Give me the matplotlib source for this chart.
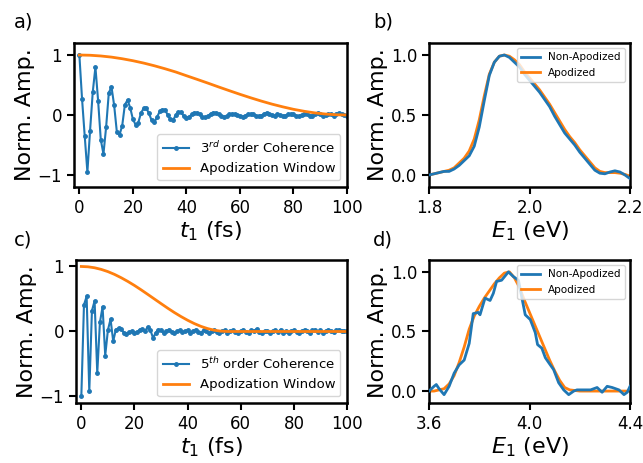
import numpy as np
import matplotlib
matplotlib.use('Agg')
import matplotlib.pyplot as plt

# 3rd order coherence, one point per fs (0..100 fs)
t_a = np.arange(0, 101, 1)
coh3 = [1.00, 0.27, -0.35, -0.95, -0.26, 0.38, 0.80, 0.24, -0.41, -0.65,
        -0.20, 0.37, 0.47, 0.16, -0.28, -0.33, -0.18, 0.17, 0.25, 0.12,
        -0.07, -0.16, -0.13, 0.03, 0.11, 0.11, 0.03, -0.09, -0.12, -0.04,
        0.06, 0.09, 0.09, 0.00, -0.07, -0.09, 0.00, 0.05, 0.05, -0.02,
        -0.05, -0.03, 0.01, 0.04, 0.04, 0.01, -0.03, -0.04, -0.02, 0.02,
        0.04, 0.04, 0.01, -0.02, -0.03, -0.02, 0.01, 0.02, 0.02, 0.00,
        -0.02, -0.03, -0.01, 0.01, 0.02, 0.01, -0.01, -0.02, -0.01, 0.02,
        0.04, 0.02, 0.00, -0.01, 0.01, 0.00, -0.02, -0.01, 0.01, 0.02,
        0.01, -0.01, -0.02, 0.00, 0.02, 0.01, -0.01, -0.01, 0.01, 0.03,
        0.01, -0.01, 0.00, 0.02, 0.01, -0.01, 0.02, 0.03, 0.01, 0.00,
        -0.02]
t_win_a = [0, 4, 8, 12, 16, 20, 24, 28, 32, 36, 40, 44, 48, 52, 56, 60,
           64, 68, 72, 76, 80, 84, 88, 92, 96, 100]
win_a = [1.0, 0.996, 0.984, 0.965, 0.938, 0.905, 0.866, 0.821, 0.771, 0.717,
         0.655, 0.594, 0.532, 0.468, 0.406, 0.345, 0.287, 0.232, 0.181, 0.136,
         0.095, 0.062, 0.035, 0.016, 0.004, 0.0]

# 5th order coherence
t_c = np.arange(0, 101, 1)
coh5 = [-1.00, 0.41, 0.54, -0.92, 0.32, 0.47, -0.64, 0.14, 0.38, -0.37,
        0.02, 0.19, -0.15, 0.03, 0.05, 0.04, -0.02, -0.04, -0.01, 0.00,
        -0.03, -0.01, 0.03, 0.04, 0.01, 0.07, 0.02, -0.10, -0.02, 0.03,
        0.02, -0.02, 0.01, 0.03, -0.01, -0.02, 0.00, 0.02, -0.01, 0.00,
        0.02, -0.02, 0.01, 0.03, -0.01, -0.02, 0.02, 0.00, -0.03, 0.01,
        0.02, -0.01, -0.03, 0.01, 0.02, -0.02, 0.00, 0.02, -0.01, -0.02,
        0.01, 0.03, -0.01, -0.02, 0.02, 0.01, 0.04, -0.01, -0.02, 0.01,
        0.00, -0.02, 0.01, 0.02, -0.01, 0.03, -0.02, 0.00, -0.03, 0.01,
        0.02, -0.01, -0.03, 0.01, 0.03, 0.00, -0.02, 0.02, 0.03, -0.01,
        0.02, -0.02, 0.01, 0.03, 0.00, -0.01, 0.02, 0.03, 0.01, 0.00,
        0.01]
t_win_c = [0, 2.5, 5, 7.5, 10, 12.5, 15, 17.5, 20, 22.5, 25, 27.5, 30, 32.5,
           35, 37.5, 40, 42.5, 45, 47.5, 50, 52.5, 55, 60, 70, 80, 90, 100]
win_c = [1.0, 0.995, 0.980, 0.955, 0.921, 0.878, 0.827, 0.770, 0.708, 0.641,
         0.571, 0.500, 0.429, 0.359, 0.292, 0.230, 0.173, 0.122, 0.079, 0.045,
         0.020, 0.005, 0.0, 0.0, 0.0, 0.0, 0.0, 0.0]

# spectra, 3rd order (E1 in eV)
E_b = np.round(np.arange(1.80, 2.2001, 0.01), 2)
spec_b_raw = [0.00, 0.01, 0.02, 0.03, 0.03, 0.05, 0.08, 0.12, 0.16, 0.24,
              0.40, 0.62, 0.83, 0.94, 0.99, 1.00, 0.98, 0.94, 0.90, 0.84,
              0.79, 0.74, 0.69, 0.63, 0.57, 0.49, 0.42, 0.35, 0.30, 0.25,
              0.19, 0.14, 0.09, 0.04, 0.015, 0.01, 0.025, 0.035, 0.025, 0.00,
              -0.03]
spec_b_apod = [0.00, 0.01, 0.02, 0.03, 0.04, 0.06, 0.10, 0.14, 0.20, 0.30,
               0.46, 0.66, 0.84, 0.94, 0.99, 1.00, 0.99, 0.96, 0.92, 0.86,
               0.81, 0.76, 0.71, 0.65, 0.59, 0.52, 0.45, 0.38, 0.32, 0.27,
               0.21, 0.16, 0.11, 0.06, 0.03, 0.02, 0.02, 0.02, 0.015, 0.005,
               -0.01]

# spectra, 5th order
E_d_raw = [3.600, 3.620, 3.629, 3.640, 3.660, 3.680, 3.700, 3.720, 3.740,
           3.760, 3.776, 3.796, 3.803, 3.823, 3.843, 3.856, 3.869, 3.889,
           3.916, 3.936, 3.956, 3.969, 3.983, 4.003, 4.023, 4.032, 4.049,
           4.063, 4.076, 4.096, 4.116, 4.136, 4.156, 4.176, 4.189, 4.216,
           4.243, 4.269, 4.289, 4.309, 4.329, 4.356, 4.376, 4.389, 4.400]
spec_d_raw = [0.00, 0.04, 0.055, 0.02, -0.03, 0.04, 0.15, 0.22, 0.26,
              0.40, 0.65, 0.66, 0.64, 0.78, 0.76, 0.82, 0.92, 0.93,
              1.00, 0.96, 0.93, 0.79, 0.64, 0.60, 0.49, 0.39, 0.36,
              0.28, 0.24, 0.18, 0.07, 0.01, -0.03, 0.00, 0.01, 0.01,
              0.01, 0.03, -0.01, 0.04, 0.03, 0.01, -0.03, -0.01, 0.04]
E_d_apod = [3.60, 3.62, 3.64, 3.66, 3.68, 3.70, 3.72, 3.74, 3.76, 3.78, 3.80,
            3.82, 3.84, 3.86, 3.88, 3.90, 3.92, 3.94, 3.96, 3.98, 4.00, 4.02,
            4.04, 4.06, 4.08, 4.10, 4.12, 4.14, 4.16, 4.20, 4.25, 4.30, 4.35,
            4.40]
spec_d_apod = [0.00, 0.00, 0.01, 0.02, 0.06, 0.13, 0.24, 0.37, 0.52, 0.63,
               0.71, 0.78, 0.84, 0.90, 0.95, 0.99, 1.00, 0.95, 0.87, 0.76,
               0.66, 0.56, 0.46, 0.36, 0.26, 0.17, 0.09, 0.03, 0.01, 0.0,
               0.0, 0.0, 0.0, 0.0]

blue = '#1f77b4'
orange = '#ff7f0e'

fig = plt.figure(figsize=(6.43, 4.63), dpi=100)
ax_a = fig.add_axes([0.1151, 0.5961, 0.4246, 0.3110])
ax_b = fig.add_axes([0.6672, 0.5961, 0.3126, 0.3110])
ax_c = fig.add_axes([0.1182, 0.1296, 0.4215, 0.3089])
ax_d = fig.add_axes([0.6672, 0.1296, 0.3126, 0.3089])

# time domain panels
for ax, t, coh, tw, w, lab in [(ax_a, t_a, coh3, t_win_a, win_a, r'3$^{rd}$ order Coherence'),
                               (ax_c, t_c, coh5, t_win_c, win_c, r'5$^{th}$ order Coherence')]:
    ax.plot(t, coh, '.-', color=blue, lw=1.5, ms=5, label=lab)
    ax.plot(tw, w, color=orange, lw=2, label='Apodization Window')
    ax.set_xlim(-2, 100)
    ax.set_xticks([0, 20, 40, 60, 80, 100])
    ax.set_yticks([-1, 0, 1])
    ax.set_xlabel(r'$t_1$ (fs)', fontsize=16, labelpad=2)
    ax.set_ylabel('Norm. Amp.', fontsize=16, labelpad=2)
    ax.legend(loc='lower right', fontsize=9.5)
ax_a.set_ylim(-1.2, 1.2)
ax_c.set_ylim(-1.1, 1.1)

# frequency domain panels
ax_b.plot(E_b, spec_b_raw, color=blue, lw=2, label='Non-Apodized', zorder=3)
ax_b.plot(E_b, spec_b_apod, color=orange, lw=2, label='Apodized', zorder=2)
ax_b.set_xlim(1.8, 2.2)
ax_b.set_xticks([1.8, 2.0, 2.2])

ax_d.plot(E_d_raw, spec_d_raw, color=blue, lw=2, label='Non-Apodized', zorder=3)
ax_d.plot(E_d_apod, spec_d_apod, color=orange, lw=2, label='Apodized', zorder=2)
ax_d.set_xlim(3.6, 4.4)
ax_d.set_xticks([3.6, 4.0, 4.4])

for ax in (ax_b, ax_d):
    ax.set_ylim(-0.1, 1.1)
    ax.set_yticks([0.0, 0.5, 1.0])
    ax.set_xlabel(r'$E_1$ (eV)', fontsize=16, labelpad=2)
    ax.set_ylabel('Norm. Amp.', fontsize=16, labelpad=2)
    ax.legend(loc='upper right', fontsize=7.5, handlelength=1.8)

for ax in (ax_a, ax_b, ax_c, ax_d):
    ax.tick_params(labelsize=12, width=1.5, length=5)
    for s in ax.spines.values():
        s.set_linewidth(1.8)

fig.text(0.022, 0.94, 'a)', fontsize=14)
fig.text(0.580, 0.94, 'b)', fontsize=14)
fig.text(0.022, 0.47, 'c)', fontsize=14)
fig.text(0.580, 0.47, 'd)', fontsize=14)

fig.savefig('out.png', dpi=100)
